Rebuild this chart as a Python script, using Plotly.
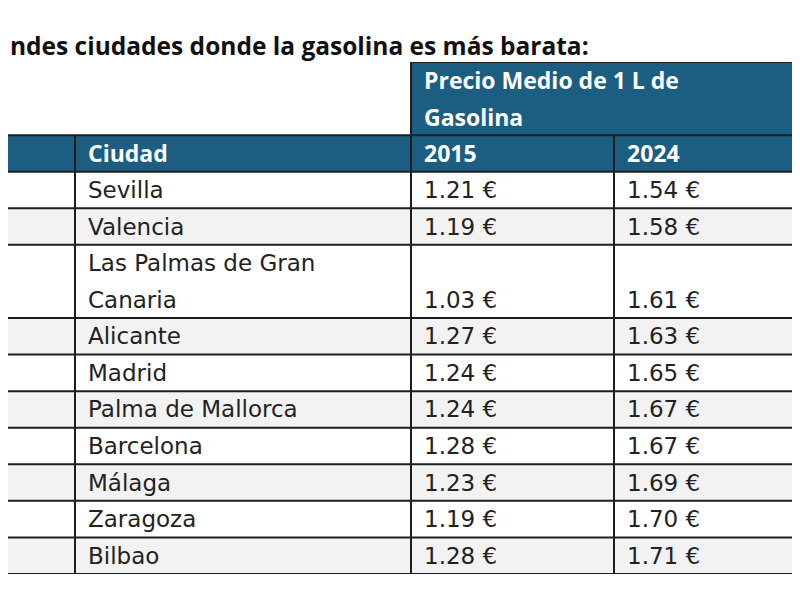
import textwrap
import plotly.graph_objects as go

# ---------------- data ----------------
title_text = "ndes ciudades donde la gasolina es más barata:"
group_header = "Precio Medio de 1 L de Gasolina"
column_headers = ["", "Ciudad", "2015", "2024"]
cities = ["Sevilla", "Valencia", "Las Palmas de Gran Canaria", "Alicante", "Madrid",
          "Palma de Mallorca", "Barcelona", "Málaga", "Zaragoza", "Bilbao"]
prices_2015 = [1.21, 1.19, 1.03, 1.27, 1.24, 1.24, 1.28, 1.23, 1.19, 1.28]
prices_2024 = [1.54, 1.58, 1.61, 1.63, 1.65, 1.67, 1.67, 1.69, 1.70, 1.71]

# ---------------- style ----------------
OFF = 8                      # page body margin offset
W, H = 800 - OFF, 600 - OFF
TOP, BOTTOM = 62, 574        # table top / bottom in window pixels
BODY_FONT = "DejaVu Sans"
HEAD_FONT = "Open Sans"
HEAD_BLUE = "#1b5e82"
ALT_GRAY = "#f2f2f2"
LINE = "#1e1e1e"
TXT = "#222222"
col_edges = [0, 75, 411, 614, 798]
PAD_BODY = 11
PAD_HEAD = 11
BODY_SIZE = 23
HEAD_SIZE = 23
TITLE_SIZE = 24.5

shapes, annots = [], []

def rect(x0, x1, y0, y1, color):
    shapes.append(dict(type="rect", xref="x", yref="y", x0=x0, x1=x1, y0=y0, y1=y1,
                       fillcolor=color, line=dict(width=0), layer="above"))

def hline(x0, x1, y):
    shapes.append(dict(type="line", xref="x", yref="y", x0=x0, x1=x1, y0=y, y1=y,
                       line=dict(color=LINE, width=2), layer="above"))

def vline(x, y0, y1):
    shapes.append(dict(type="line", xref="x", yref="y", x0=x, x1=x, y0=y0, y1=y1,
                       line=dict(color=LINE, width=2), layer="above"))

def text(x, y, s, color=TXT, bold=False):
    annots.append(dict(xref="x", yref="y", x=x, y=y, text=s, showarrow=False,
                       xanchor="left", yanchor="middle",
                       font=dict(family=HEAD_FONT if bold else BODY_FONT,
                                 size=HEAD_SIZE if bold else BODY_SIZE, color=color,
                                 weight=700 if bold else 400)))

# row layout in "line" units
group_lines = textwrap.wrap(group_header, 22)
city_lines = [textwrap.wrap(c, 18) for c in cities]
row_heights = [len(l) for l in city_lines]
total = len(group_lines) + 1 + sum(row_heights)

# header row 1 (merged group header)
y = 0
h1 = len(group_lines)
rect(col_edges[2], col_edges[4], y, y + h1, HEAD_BLUE)
for i, s in enumerate(group_lines):
    text(col_edges[2] + PAD_HEAD, y + i + 0.5, s, "white", True)
y += h1

# header row 2
rect(col_edges[0], col_edges[4], y, y + 1, HEAD_BLUE)
for c, s in enumerate(column_headers):
    if s:
        text(col_edges[c] + PAD_HEAD, y + 0.5, s, "white", True)
hdr2_top = y
y += 1

# body
row_tops = []
for r, lines in enumerate(city_lines):
    h = row_heights[r]
    row_tops.append(y)
    if r % 2 == 1:
        rect(col_edges[0], col_edges[4], y, y + h, ALT_GRAY)
    for i, s in enumerate(lines):
        text(col_edges[1] + PAD_BODY, y + i + 0.5, s)
    text(col_edges[2] + PAD_BODY, y + h - 0.5, f"{prices_2015[r]:.2f} €")
    text(col_edges[3] + PAD_BODY, y + h - 0.5, f"{prices_2024[r]:.2f} €")
    y += h

# grid lines
hline(col_edges[2], col_edges[4], 0)
hline(col_edges[0], col_edges[4], hdr2_top)
for t in row_tops:
    hline(col_edges[0], col_edges[4], t)
hline(col_edges[0], col_edges[4], total)
vline(col_edges[2], 0, total)
vline(col_edges[4], 0, total)
vline(col_edges[1], hdr2_top, total)
vline(col_edges[3], hdr2_top, total)

# title
annots.append(dict(xref="paper", yref="paper", x=0,
                   y=1 + (TOP - 45) / (BOTTOM - TOP),
                   text=title_text, showarrow=False, xanchor="left", yanchor="middle",
                   font=dict(family=HEAD_FONT, size=TITLE_SIZE, color="#111111", weight=700)))

fig = go.Figure()
fig.add_trace(go.Scatter(x=[OFF, 800], y=[0, total], mode="markers",
                         marker=dict(opacity=0), hoverinfo="skip", showlegend=False))
fig.update_layout(
    width=W, height=H,
    margin=dict(l=0, r=0, t=TOP - OFF, b=600 - BOTTOM, autoexpand=False),
    paper_bgcolor="white", plot_bgcolor="white",
    xaxis=dict(range=[OFF, 800], visible=False, fixedrange=True),
    yaxis=dict(range=[total, 0], visible=False, fixedrange=True),
    shapes=shapes, annotations=annots,
)
fig.write_html("out.html")
